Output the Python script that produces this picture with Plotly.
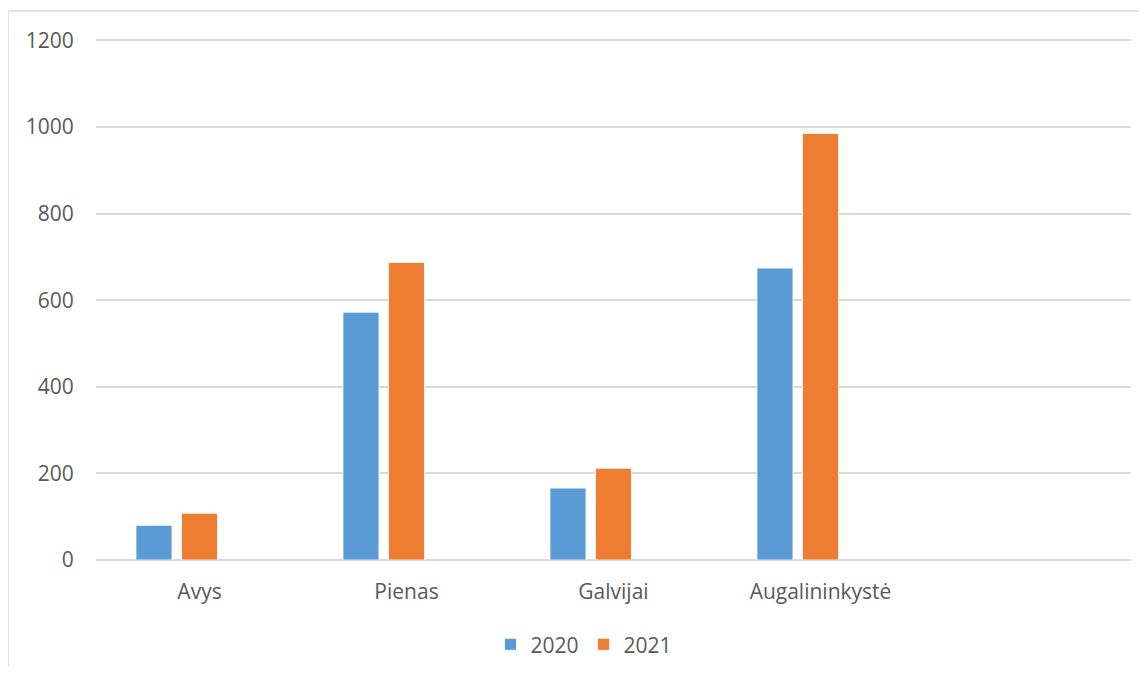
import plotly.graph_objects as go

categories = ["Avys", "Pienas", "Galvijai", "Augalininkystė"]
values_2020 = [80, 572, 166, 674]
values_2021 = [108, 687, 212, 985]
series_names = ["2020", "2021"]
y_ticks = [0, 200, 400, 600, 800, 1000, 1200]

BLUE = "#5B9BD5"
ORANGE = "#ED7D31"
GRID = "#D9D9D9"
TXT = "#595959"
FONT = "Open Sans"
FS = 21

OFF = 8  # page body margin
W, H = 1147 - 2 * OFF, 675 - 2 * OFF
# plot area in reference pixel coords: x 96..1131, y 39..560.3
PX0, PX1, PY0, PY1 = 96, 1131, 39.0, 560.3
L = PX0 - OFF
R = W - (PX1 - OFF)
T = PY0 - OFF
B = H - (PY1 - OFF)
pw, ph = PX1 - PX0, PY1 - PY0

def px_x(px):
    return (px - PX0) / pw

def px_y(py):
    return (PY1 - py) / ph

bar_w = 0.174
fig = go.Figure()
fig.add_trace(go.Bar(x=categories, y=values_2020, name=series_names[0],
                     marker=dict(color=BLUE, line=dict(color="white", width=0.8)),
                     width=bar_w, offset=-0.307))
fig.add_trace(go.Bar(x=categories, y=values_2021, name=series_names[1],
                     marker=dict(color=ORANGE, line=dict(color="white", width=0.8)),
                     width=bar_w, offset=-0.087))

fig.update_layout(
    width=W, height=H,
    margin=dict(l=L, r=R, t=T, b=B, autoexpand=False),
    plot_bgcolor="white", paper_bgcolor="white",
    font=dict(family=FONT, size=FS, color=TXT),
    barmode="overlay",
    showlegend=True,
    legend=dict(orientation="h", x=px_x(584), xanchor="center",
                y=px_y(645), yanchor="middle",
                font=dict(family=FONT, size=FS, color=TXT),
                itemwidth=30, tracegroupgap=0),
    xaxis=dict(type="category", categoryorder="array", categoryarray=categories,
               range=[-0.5, 4.5], showgrid=False, zeroline=False,
               showline=False, ticks="outside", ticklen=13, tickcolor="white",
               tickfont=dict(family=FONT, size=FS, color=TXT)),
    yaxis=dict(range=[0, 1203], tickvals=y_ticks, showgrid=True, gridcolor=GRID,
               gridwidth=1.5, zeroline=True, zerolinecolor=GRID, zerolinewidth=1.5,
               showline=False, ticks="outside", ticklen=17, tickcolor="white",
               tickfont=dict(family=FONT, size=FS, color=TXT)),
    shapes=[
        dict(type="line", xref="paper", yref="paper",
             x0=px_x(8), x1=px_x(1160), y0=px_y(11), y1=px_y(11),
             line=dict(color=GRID, width=1.5)),
        dict(type="line", xref="paper", yref="paper",
             x0=px_x(8), x1=px_x(8), y0=px_y(11), y1=px_y(690),
             line=dict(color=GRID, width=1.5)),
    ],
)

fig.write_html("out.html")
